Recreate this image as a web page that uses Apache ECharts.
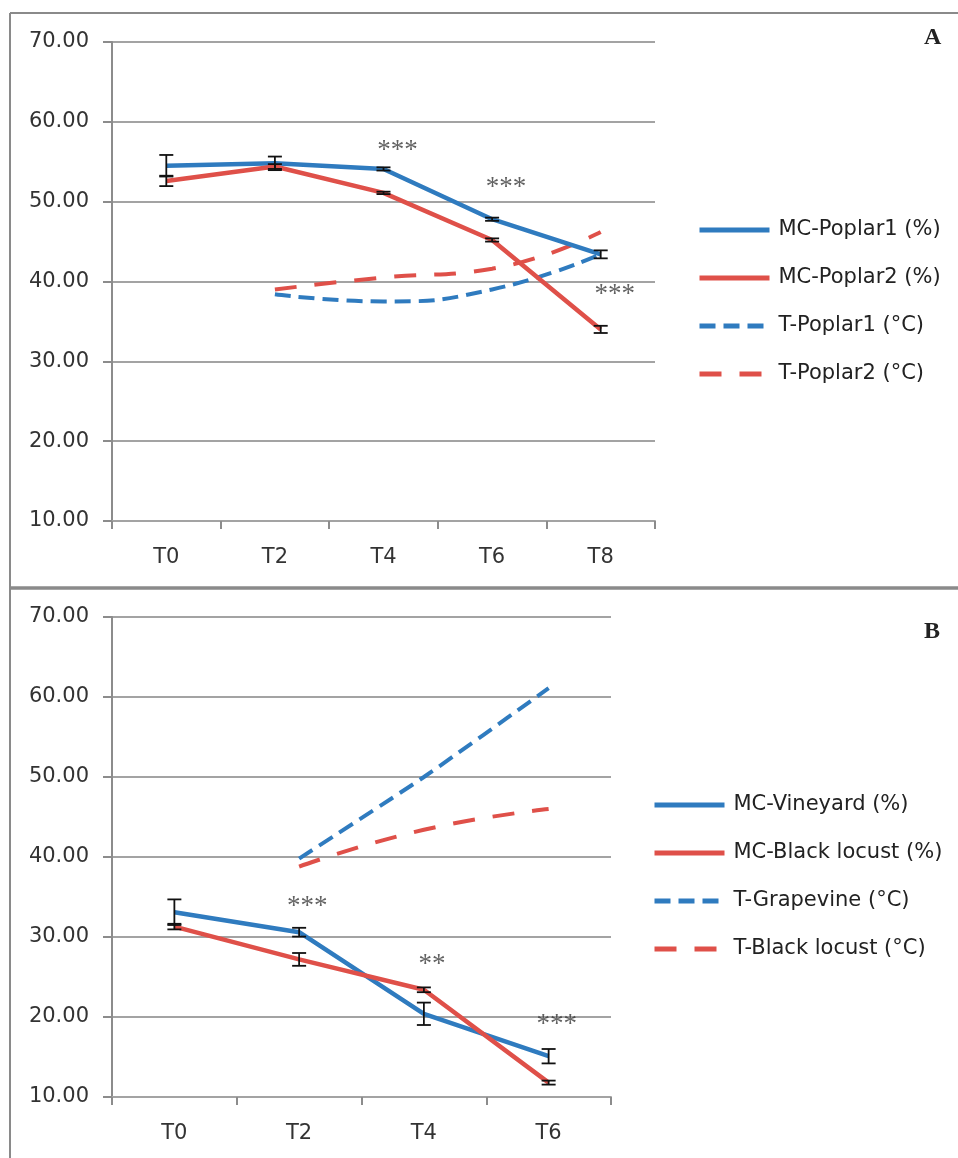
<!DOCTYPE html>
<html>
<head>
<meta charset="utf-8">
<script src="https://cdn.jsdelivr.net/npm/echarts@6/dist/echarts.min.js"></script>
<style>
html,body{margin:0;padding:0;background:#fff;}
#c{width:958px;height:1158px;}
</style>
</head>
<body>
<div id="c"></div>
<script>
// ---------- data ----------
const catsA = ['T0', 'T2', 'T4', 'T6', 'T8'];
const mcPoplar1 = [54.5, 54.8, 54.1, 47.8, 43.4];
const mcPoplar1Err = [1.35, 0.85, 0.2, 0.2, 0.5];
const mcPoplar2 = [52.6, 54.4, 51.1, 45.2, 34.0];
const mcPoplar2Err = [0.65, 0.3, 0.15, 0.2, 0.45];
const tPoplar1 = [null, 38.4, 37.5, 39.0, 43.4];
const tPoplar2 = [null, 39.0, 40.5, 41.6, 46.2];
const sigA = ['', '', '***', '***', '***'];
const sigAy = [null, null, 57.0, 52.4, 38.9];

const catsB = ['T0', 'T2', 'T4', 'T6'];
const mcVineyard = [33.1, 30.6, 20.4, 15.1];
const mcVineyardErr = [1.6, 0.55, 1.4, 0.9];
const mcBlackLocust = [31.3, 27.2, 23.4, 11.8];
const mcBlackLocustErr = [0.35, 0.8, 0.3, 0.25];
const tGrapevine = [null, 39.8, 50.0, 61.1];
const tBlackLocust = [null, 38.8, 43.4, 46.0];
const sigB = ['', '***', '**', '***'];
const sigBy = [null, 34.4, 27.1, 19.6];

const yTicks = [10, 20, 30, 40, 50, 60, 70];

// ---------- style ----------
const BLUE = '#2f7bbf';
const RED = '#df5049';
const GRID = '#a3a3a3';
const FONT = 'DejaVu Sans';

function yAxis(idx) {
  return {
    type: 'value', gridIndex: idx,
    min: yTicks[0], max: yTicks[yTicks.length - 1], interval: 10,
    axisLine: {show: true, lineStyle: {color: '#8c8c8c', width: 2}},
    axisTick: {show: true, length: 9, lineStyle: {color: '#8c8c8c', width: 2}},
    splitLine: {show: true, lineStyle: {color: GRID, width: 2}},
    axisLabel: {margin: 23, color: '#333', fontFamily: FONT, fontSize: 21,
      formatter: v => v.toFixed(2)}
  };
}
function xAxis(idx, cats) {
  return {
    type: 'category', gridIndex: idx, data: cats, boundaryGap: true,
    axisLine: {show: true, lineStyle: {color: GRID, width: 2}},
    axisTick: {show: true, length: 8, inside: false, lineStyle: {color: '#8c8c8c', width: 2}},
    splitLine: {show: false},
    axisLabel: {margin: 26, color: '#333', fontFamily: FONT, fontSize: 21}
  };
}
function solid(name, data, color, idx) {
  return {name, type: 'line', data, xAxisIndex: idx, yAxisIndex: idx,
    symbol: 'none', smooth: false, color,
    lineStyle: {color, width: 4.5}, z: 3};
}
function dashed(name, data, color, idx, dash, smooth) {
  return {name, type: 'line', data, xAxisIndex: idx, yAxisIndex: idx,
    symbol: 'none', smooth, connectNulls: true, color,
    lineStyle: {color, width: 4, type: dash}, z: 2};
}
function errSeries(vals, errs, idx) {
  return {type: 'custom', xAxisIndex: idx, yAxisIndex: idx, z: 5,
    data: vals.map((v, i) => [i, v - errs[i], v + errs[i]]),
    renderItem: function (params, api) {
      const lo = api.coord([api.value(0), api.value(1)]);
      const hi = api.coord([api.value(0), api.value(2)]);
      const w = 7;
      const st = {stroke: '#111', lineWidth: 1.8};
      return {type: 'group', children: [
        {type: 'line', shape: {x1: lo[0], y1: lo[1], x2: hi[0], y2: hi[1]}, style: st},
        {type: 'line', shape: {x1: lo[0] - w, y1: lo[1], x2: lo[0] + w, y2: lo[1]}, style: st},
        {type: 'line', shape: {x1: hi[0] - w, y1: hi[1], x2: hi[0] + w, y2: hi[1]}, style: st}
      ]};
    }};
}
function sigSeries(ys, texts, idx, dx) {
  return {type: 'scatter', xAxisIndex: idx, yAxisIndex: idx, symbolSize: 0, z: 6,
    silent: true,
    data: ys.map((y, i) => (y == null ? null : [i, y])),
    label: {show: true, position: 'inside', offset: [dx, 5],
      formatter: p => texts[p.dataIndex],
      fontFamily: 'Liberation Serif', fontSize: 27, color: '#3a3a3a'}};
}

const legendCommon = {
  orient: 'vertical', itemWidth: 70, itemHeight: 22, itemGap: 26, padding: 0,
  textStyle: {fontFamily: FONT, fontSize: 21, color: '#222', lineHeight: 22, padding: [0, 0, 0, 4]},
  itemStyle: {opacity: 0, borderWidth: 0},
  lineStyle: {width: 5},
  selectedMode: false
};

const option = {
  animation: false,
  backgroundColor: '#fff',
  grid: [
    {left: 112, top: 42, width: 543, height: 479},
    {left: 112, top: 617, width: 499, height: 480}
  ],
  xAxis: [xAxis(0, catsA), xAxis(1, catsB)],
  yAxis: [yAxis(0), yAxis(1)],
  legend: [
    Object.assign({left: 697, top: 219,
      data: ['MC-Poplar1 (%)', 'MC-Poplar2 (%)', 'T-Poplar1 (°C)', 'T-Poplar2 (°C)']}, legendCommon),
    Object.assign({left: 652, top: 794,
      data: ['MC-Vineyard (%)', 'MC-Black locust (%)', 'T-Grapevine (°C)', 'T-Black locust (°C)']}, legendCommon)
  ],
  series: [
    solid('MC-Poplar1 (%)', mcPoplar1, BLUE, 0),
    solid('MC-Poplar2 (%)', mcPoplar2, RED, 0),
    dashed('T-Poplar1 (°C)', tPoplar1, BLUE, 0, [16, 8], 0.5),
    dashed('T-Poplar2 (°C)', tPoplar2, RED, 0, [22, 18], 0.5),
    errSeries(mcPoplar1, mcPoplar1Err, 0),
    errSeries(mcPoplar2, mcPoplar2Err, 0),
    sigSeries(sigAy, sigA, 0, 14),

    solid('MC-Vineyard (%)', mcVineyard, BLUE, 1),
    solid('MC-Black locust (%)', mcBlackLocust, RED, 1),
    dashed('T-Grapevine (°C)', tGrapevine, BLUE, 1, [16, 8], 0.2),
    dashed('T-Black locust (°C)', tBlackLocust, RED, 1, [22, 18], 0.5),
    errSeries(mcVineyard, mcVineyardErr, 1),
    errSeries(mcBlackLocust, mcBlackLocustErr, 1),
    sigSeries(sigBy, sigB, 1, 8)
  ],
  graphic: [
    {type: 'line', shape: {x1: 10, y1: 13, x2: 958, y2: 13}, style: {stroke: '#8a8a8a', lineWidth: 2}},
    {type: 'line', shape: {x1: 10, y1: 13, x2: 10, y2: 1158}, style: {stroke: '#8a8a8a', lineWidth: 2}},
    {type: 'line', shape: {x1: 10, y1: 588, x2: 958, y2: 588}, style: {stroke: '#8a8a8a', lineWidth: 3.5}},
    {type: 'text', left: 924, top: 26, style: {text: 'A', font: 'bold 24px "Liberation Serif"', fill: '#222'}},
    {type: 'text', left: 924, top: 620, style: {text: 'B', font: 'bold 24px "Liberation Serif"', fill: '#222'}}
  ]
};

const chart = echarts.init(document.getElementById('c'), null, {renderer: 'canvas'});
chart.setOption(option);
</script>
</body>
</html>
